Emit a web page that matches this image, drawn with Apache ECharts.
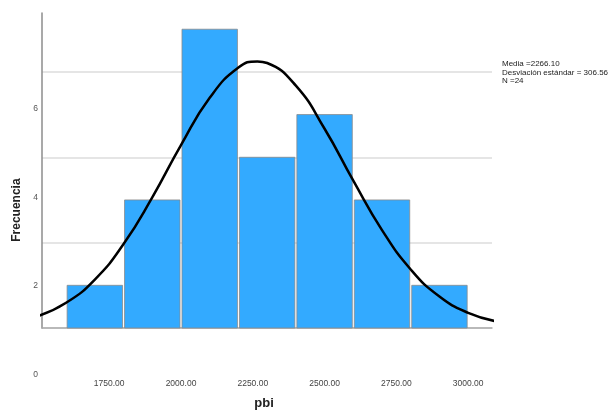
<!DOCTYPE html>
<html>
<head>
<meta charset="utf-8">
<script src="https://cdn.jsdelivr.net/npm/echarts@6/dist/echarts.min.js"></script>
<style>html,body{margin:0;padding:0;background:#fff}#c{width:609px;height:412px}</style>
</head>
<body>
<div id="c"></div>
<script>
// ---- data ----
const binStarts = [1600, 1800, 2000, 2200, 2400, 2600, 2800];
const binEnds   = [1800, 2000, 2200, 2400, 2600, 2800, 3000];
const counts    = [1, 3, 7, 4, 5, 3, 1];
const curveX = [1500,1600,1700,1800,1900,2000,2100,2200,2266,2300,2400,2500,2600,2700,2800,2900,3000,3100];
const curveY = [0.275,0.590,1.136,1.967,3.061,4.285,5.393,6.102,6.246,6.208,5.678,4.668,3.452,2.294,1.371,0.736,0.356,0.154];
const xTickLabels = [1750, 2000, 2250, 2500, 2750, 3000];
const yTickLabels = [0, 2, 4, 6];
const statsLines = ['Media =2266.10', 'Desviación estándar = 306.56', 'N =24'];

// ---- layout helpers ----
const X_MIN = 1516, X_MAX = 3083;
const Y_MAX = 7.38, Y_LAB_MIN = -1.2;
const labPos = v => v * 1.04 - 1.1;
const labVal = p => Math.round((p + 1.1) / 1.04);

const chart = echarts.init(document.getElementById('c'), null, {renderer: 'canvas'});
const font = 'Liberation Sans, Arial, sans-serif';

const barData = binStarts.map((s, i) => [s, binEnds[i], counts[i]]);
const curveData = curveX.map((x, i) => [x, curveY[i]]);

chart.setOption({
  animation: false,
  title: {
    text: statsLines.join('\n'),
    left: 497, top: 55,
    textStyle: {fontFamily: font, fontSize: 8, fontWeight: 'normal', color: '#222', lineHeight: 8.2}
  },
  grid: [
    {left: 42, right: 117, top: 13, bottom: 84, outerBoundsMode: 'none', containLabel: false},
    {left: 42, right: 117, top: 13, bottom: 32.8, outerBoundsMode: 'none', containLabel: false}
  ],
  xAxis: [
    {
      type: 'value', gridIndex: 0, min: X_MIN, max: X_MAX,
      axisLine: {show: true, lineStyle: {color: '#aaaaaa', width: 1.5}},
      axisTick: {show: false}, axisLabel: {show: false}, splitLine: {show: false}
    },
    {
      type: 'value', gridIndex: 1, min: X_MIN, max: X_MAX,
      axisLine: {show: false}, axisTick: {show: false}, splitLine: {show: false},
      axisLabel: {
        customValues: xTickLabels, margin: 0,
        formatter: v => v.toFixed(2),
        fontFamily: font, fontSize: 8.5, color: '#444'
      },
      name: 'pbi', nameLocation: 'middle', nameGap: 18,
      nameTextStyle: {fontFamily: font, fontSize: 13, fontWeight: 'bold', color: '#222', padding: [0, 6, 0, 0]}
    }
  ],
  yAxis: [
    {
      type: 'value', gridIndex: 0, min: 0, max: Y_MAX, interval: 2,
      axisLine: {show: true, lineStyle: {color: '#8c8c8c', width: 1.5}},
      axisTick: {show: false}, axisLabel: {show: false},
      splitLine: {show: true, showMaxLine: false, lineStyle: {color: '#dddddd', width: 1.5}}
    },
    {
      type: 'value', gridIndex: 1, min: Y_LAB_MIN, max: Y_MAX,
      axisLine: {show: false}, axisTick: {show: false}, splitLine: {show: false},
      axisLabel: {
        customValues: yTickLabels.map(labPos), margin: 4,
        formatter: v => String(labVal(v)),
        fontFamily: font, fontSize: 8.5, color: '#555'
      },
      name: 'Frecuencia', nameLocation: 'middle', nameGap: 19,
      nameTextStyle: {fontFamily: font, fontSize: 12, fontWeight: 'bold', color: '#222', padding: [0, 28, 0, 0]}
    }
  ],
  series: [
    {
      type: 'custom', xAxisIndex: 0, yAxisIndex: 0, z: 2,
      data: barData,
      encode: {x: [0, 1], y: 2},
      renderItem: (params, api) => {
        const p0 = api.coord([api.value(0), api.value(2)]);
        const p1 = api.coord([api.value(1), 0]);
        return {
          type: 'rect',
          shape: {x: p0[0] + 1, y: p0[1], width: p1[0] - p0[0] - 2, height: p1[1] - p0[1]},
          style: {fill: '#33aaff', stroke: '#8a8a8a', lineWidth: 0.8}
        };
      }
    },
    {
      type: 'line', xAxisIndex: 0, yAxisIndex: 0, z: 3,
      data: curveData, smooth: 0.5, symbol: 'none',
      lineStyle: {color: '#000', width: 2.5}
    }
  ]
});
</script>
</body>
</html>
